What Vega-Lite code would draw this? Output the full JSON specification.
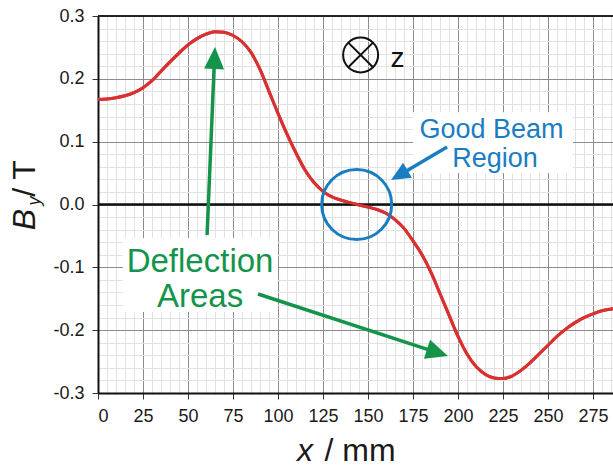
{
  "$schema": "https://vega.github.io/schema/vega-lite/v6.json",
  "width": 515,
  "height": 377,
  "autosize": {"type": "none"},
  "padding": {"left": 98, "top": 16, "right": 0, "bottom": 75},
  "background": "white",
  "config": {"view": {"stroke": null}, "font": "Liberation Sans"},
  "datasets": {
    "field": [
      {"x": 0, "by": 0.167}, {"x": 5, "by": 0.168}, {"x": 10, "by": 0.170}, {"x": 15, "by": 0.173},
      {"x": 20, "by": 0.178}, {"x": 25, "by": 0.186}, {"x": 30, "by": 0.197}, {"x": 35, "by": 0.212},
      {"x": 40, "by": 0.227}, {"x": 45, "by": 0.241}, {"x": 50, "by": 0.254}, {"x": 55, "by": 0.264},
      {"x": 60, "by": 0.271}, {"x": 65, "by": 0.275}, {"x": 70, "by": 0.274}, {"x": 75, "by": 0.269},
      {"x": 80, "by": 0.259}, {"x": 85, "by": 0.242}, {"x": 90, "by": 0.215}, {"x": 95, "by": 0.180},
      {"x": 100, "by": 0.145}, {"x": 105, "by": 0.112}, {"x": 110, "by": 0.082}, {"x": 115, "by": 0.055},
      {"x": 120, "by": 0.035}, {"x": 125, "by": 0.021}, {"x": 130, "by": 0.012}, {"x": 135, "by": 0.007},
      {"x": 140, "by": 0.003}, {"x": 144, "by": 0.0}, {"x": 150, "by": -0.004}, {"x": 155, "by": -0.008},
      {"x": 160, "by": -0.014}, {"x": 165, "by": -0.024}, {"x": 170, "by": -0.038}, {"x": 175, "by": -0.058},
      {"x": 180, "by": -0.080}, {"x": 185, "by": -0.108}, {"x": 190, "by": -0.142}, {"x": 195, "by": -0.176},
      {"x": 200, "by": -0.210}, {"x": 205, "by": -0.238}, {"x": 210, "by": -0.258}, {"x": 215, "by": -0.270},
      {"x": 220, "by": -0.276}, {"x": 225, "by": -0.277}, {"x": 230, "by": -0.273}, {"x": 235, "by": -0.264},
      {"x": 240, "by": -0.252}, {"x": 245, "by": -0.238}, {"x": 250, "by": -0.224}, {"x": 255, "by": -0.210},
      {"x": 260, "by": -0.198}, {"x": 265, "by": -0.188}, {"x": 270, "by": -0.180}, {"x": 275, "by": -0.174},
      {"x": 280, "by": -0.169}, {"x": 286.1, "by": -0.166}
    ],
    "boxes": [
      {"x": 13.9, "x2": 100, "y": -0.0533, "y2": -0.171},
      {"x": 175, "x2": 263.9, "y": 0.147, "y2": 0.0502}
    ],
    "refs": [{"level": 0}],
    "topEdge": [{"level": 0.3}],
    "greenLines": [
      {"id": "a1", "x": 60.6, "y": -0.0485},
      {"id": "a1", "x": 64.6, "y": 0.2252},
      {"id": "a2", "x": 88.9, "y": -0.1424},
      {"id": "a2", "x": 186.0, "y": -0.2333}
    ],
    "blueLine": [
      {"x": 193.9, "y": 0.0915},
      {"x": 169.0, "y": 0.0495}
    ],
    "head1": [{"x": 65.0, "y": 0.2507}],
    "head2": [{"x": 194.4, "y": -0.2411}],
    "head3": [{"x": 162.8, "y": 0.039}],
    "beam": [{"x": 143.7, "y": 0.0}],
    "zsym": [{"x": 145.9, "y": 0.238}],
    "zlabel": [{"x": 166.4, "y": 0.2188, "label": "z"}],
    "greenText": [
      {"x": 56.7, "y": -0.107, "label": "Deflection"},
      {"x": 56.7, "y": -0.1627, "label": "Areas"}
    ],
    "blueText": [
      {"x": 218.6, "y": 0.1054, "label": "Good Beam"},
      {"x": 220.6, "y": 0.0602, "label": "Region"}
    ],
    "xTitleItalic": [{"x": 115, "y": -0.409, "label": "x"}],
    "xTitleRest": [{"x": 145.6, "y": -0.409, "label": "/ mm"}],
    "yTitleB": [{"x": -35, "y": -0.024, "label": "B"}],
    "yTitleSub": [{"x": -32.2, "y": 0.0056, "label": "y"}],
    "yTitleRest": [{"x": -35, "y": 0.0414, "label": "/ T"}]
  },
  "layer": [
    {
      "data": {"name": "field"},
      "mark": {"type": "point", "opacity": 0},
      "encoding": {
        "x": {"field": "x", "type": "quantitative",
          "scale": {"domain": [0, 286.1], "nice": false, "zero": false},
          "axis": {"orient": "top", "values": [5,10,15,20,30,35,40,45,55,60,65,70,80,85,90,95,105,110,115,120,130,135,140,145,155,160,165,170,180,185,190,195,205,210,215,220,230,235,240,245,255,260,265,270,280,285],
            "grid": true, "gridColor": "#e2e2e2", "gridWidth": 1, "labels": false, "ticks": false, "domain": false, "title": null}},
        "y": {"field": "by", "type": "quantitative",
          "scale": {"domain": [-0.3, 0.3], "nice": false, "zero": false},
          "axis": {"orient": "right", "values": [-0.28,-0.26,-0.24,-0.22,-0.18,-0.16,-0.14,-0.12,-0.08,-0.06,-0.04,-0.02,0.02,0.04,0.06,0.08,0.12,0.14,0.16,0.18,0.22,0.24,0.26,0.28],
            "grid": true, "gridColor": "#e2e2e2", "gridWidth": 1, "labels": false, "ticks": false, "domain": false, "title": null}}
      }
    },
    {
      "data": {"name": "field"},
      "mark": {"type": "line", "color": "#d8312f", "strokeWidth": 3, "interpolate": "monotone"},
      "encoding": {
        "x": {"field": "x", "type": "quantitative",
          "scale": {"domain": [0, 286.1], "nice": false, "zero": false},
          "axis": {"orient": "bottom", "values": [0,25,50,75,100,125,150,175,200,225,250,275],
            "grid": true, "gridColor": "#8c8c8c", "gridWidth": 1,
            "domainColor": "#111111", "domainWidth": 2, "tickColor": "#333333", "tickSize": 6, "tickWidth": 1,
            "labelFontSize": 18, "labelColor": "#1a1a1a", "labelPadding": 8, "labelFont": "Liberation Sans", "title": null}},
        "y": {"field": "by", "type": "quantitative",
          "scale": {"domain": [-0.3, 0.3], "nice": false, "zero": false},
          "axis": {"orient": "left", "values": [-0.3,-0.2,-0.1,0,0.1,0.2,0.3], "format": ".1f",
            "labelExpr": "replace(datum.label, '−', '-')",
            "grid": true, "gridColor": "#8c8c8c", "gridWidth": 1,
            "domainColor": "#111111", "domainWidth": 2, "tickColor": "#333333", "tickSize": 6, "tickWidth": 1,
            "labelFontSize": 18, "labelColor": "#1a1a1a", "labelPadding": 8, "labelFont": "Liberation Sans", "title": null}}
      }
    },
    {
      "data": {"name": "boxes"},
      "mark": {"type": "rect", "color": "white"},
      "encoding": {
        "x": {"field": "x", "type": "quantitative", "scale": {"domain": [0, 286.1], "nice": false, "zero": false}, "axis": null},
        "x2": {"field": "x2"},
        "y": {"field": "y", "type": "quantitative", "scale": {"domain": [-0.3, 0.3], "nice": false, "zero": false}, "axis": null},
        "y2": {"field": "y2"}
      }
    },
    {
      "data": {"name": "refs"},
      "mark": {"type": "rule", "color": "#111111", "strokeWidth": 2.5},
      "encoding": {"y": {"field": "level", "type": "quantitative", "scale": {"domain": [-0.3, 0.3], "nice": false, "zero": false}, "axis": null}}
    },
    {
      "data": {"name": "topEdge"},
      "mark": {"type": "rule", "color": "#222222", "strokeWidth": 2},
      "encoding": {"y": {"field": "level", "type": "quantitative", "scale": {"domain": [-0.3, 0.3], "nice": false, "zero": false}, "axis": null}}
    },
    {
      "data": {"name": "field"},
      "mark": {"type": "line", "color": "#d8312f", "strokeWidth": 3, "interpolate": "monotone"},
      "encoding": {
        "x": {"field": "x", "type": "quantitative", "scale": {"domain": [0, 286.1], "nice": false, "zero": false}, "axis": null},
        "y": {"field": "by", "type": "quantitative", "scale": {"domain": [-0.3, 0.3], "nice": false, "zero": false}, "axis": null}
      }
    },
    {
      "data": {"name": "beam"},
      "mark": {"type": "point", "shape": "circle", "size": 4900, "filled": false, "stroke": "#1a7dc2", "strokeWidth": 3, "opacity": 1},
      "encoding": {
        "x": {"field": "x", "type": "quantitative", "scale": {"domain": [0, 286.1], "nice": false, "zero": false}, "axis": null},
        "y": {"field": "y", "type": "quantitative", "scale": {"domain": [-0.3, 0.3], "nice": false, "zero": false}, "axis": null}
      }
    },
    {
      "data": {"name": "zsym"},
      "mark": {"type": "point", "shape": "circle", "size": 1225, "filled": false, "stroke": "#111111", "strokeWidth": 2, "opacity": 1},
      "encoding": {
        "x": {"field": "x", "type": "quantitative", "scale": {"domain": [0, 286.1], "nice": false, "zero": false}, "axis": null},
        "y": {"field": "y", "type": "quantitative", "scale": {"domain": [-0.3, 0.3], "nice": false, "zero": false}, "axis": null}
      }
    },
    {
      "data": {"name": "zsym"},
      "mark": {"type": "point", "shape": "M-0.707,-0.707L0.707,0.707M-0.707,0.707L0.707,-0.707", "size": 1225, "filled": false, "stroke": "#111111", "strokeWidth": 2, "opacity": 1},
      "encoding": {
        "x": {"field": "x", "type": "quantitative", "scale": {"domain": [0, 286.1], "nice": false, "zero": false}, "axis": null},
        "y": {"field": "y", "type": "quantitative", "scale": {"domain": [-0.3, 0.3], "nice": false, "zero": false}, "axis": null}
      }
    },
    {
      "data": {"name": "zlabel"},
      "mark": {"type": "text", "font": "Liberation Sans", "fontSize": 28, "color": "#111111", "align": "center", "baseline": "alphabetic"},
      "encoding": {
        "x": {"field": "x", "type": "quantitative", "scale": {"domain": [0, 286.1], "nice": false, "zero": false}, "axis": null},
        "y": {"field": "y", "type": "quantitative", "scale": {"domain": [-0.3, 0.3], "nice": false, "zero": false}, "axis": null},
        "text": {"field": "label"}
      }
    },
    {
      "data": {"name": "greenLines"},
      "mark": {"type": "line", "color": "#14944a", "strokeWidth": 3.5},
      "encoding": {
        "x": {"field": "x", "type": "quantitative", "scale": {"domain": [0, 286.1], "nice": false, "zero": false}, "axis": null},
        "y": {"field": "y", "type": "quantitative", "scale": {"domain": [-0.3, 0.3], "nice": false, "zero": false}, "axis": null},
        "detail": {"field": "id"}
      }
    },
    {
      "data": {"name": "head1"},
      "mark": {"type": "point", "shape": "M0,0L-1,2.2L1,2.2Z", "size": 400, "filled": true, "color": "#14944a", "opacity": 1, "angle": 2.4},
      "encoding": {
        "x": {"field": "x", "type": "quantitative", "scale": {"domain": [0, 286.1], "nice": false, "zero": false}, "axis": null},
        "y": {"field": "y", "type": "quantitative", "scale": {"domain": [-0.3, 0.3], "nice": false, "zero": false}, "axis": null}
      }
    },
    {
      "data": {"name": "head2"},
      "mark": {"type": "point", "shape": "M0,0L-1,2.2L1,2.2Z", "size": 400, "filled": true, "color": "#14944a", "opacity": 1, "angle": 108},
      "encoding": {
        "x": {"field": "x", "type": "quantitative", "scale": {"domain": [0, 286.1], "nice": false, "zero": false}, "axis": null},
        "y": {"field": "y", "type": "quantitative", "scale": {"domain": [-0.3, 0.3], "nice": false, "zero": false}, "axis": null}
      }
    },
    {
      "data": {"name": "blueLine"},
      "mark": {"type": "line", "color": "#1a7dc2", "strokeWidth": 3.5},
      "encoding": {
        "x": {"field": "x", "type": "quantitative", "scale": {"domain": [0, 286.1], "nice": false, "zero": false}, "axis": null},
        "y": {"field": "y", "type": "quantitative", "scale": {"domain": [-0.3, 0.3], "nice": false, "zero": false}, "axis": null}
      }
    },
    {
      "data": {"name": "head3"},
      "mark": {"type": "point", "shape": "M0,0L-1,2.2L1,2.2Z", "size": 300, "filled": true, "color": "#1a7dc2", "opacity": 1, "angle": 239.5},
      "encoding": {
        "x": {"field": "x", "type": "quantitative", "scale": {"domain": [0, 286.1], "nice": false, "zero": false}, "axis": null},
        "y": {"field": "y", "type": "quantitative", "scale": {"domain": [-0.3, 0.3], "nice": false, "zero": false}, "axis": null}
      }
    },
    {
      "data": {"name": "greenText"},
      "mark": {"type": "text", "font": "Liberation Sans", "fontSize": 33, "color": "#14944a", "align": "center", "baseline": "alphabetic"},
      "encoding": {
        "x": {"field": "x", "type": "quantitative", "scale": {"domain": [0, 286.1], "nice": false, "zero": false}, "axis": null},
        "y": {"field": "y", "type": "quantitative", "scale": {"domain": [-0.3, 0.3], "nice": false, "zero": false}, "axis": null},
        "text": {"field": "label"}
      }
    },
    {
      "data": {"name": "blueText"},
      "mark": {"type": "text", "font": "Liberation Sans", "fontSize": 27, "color": "#1a7dc2", "align": "center", "baseline": "alphabetic"},
      "encoding": {
        "x": {"field": "x", "type": "quantitative", "scale": {"domain": [0, 286.1], "nice": false, "zero": false}, "axis": null},
        "y": {"field": "y", "type": "quantitative", "scale": {"domain": [-0.3, 0.3], "nice": false, "zero": false}, "axis": null},
        "text": {"field": "label"}
      }
    },
    {
      "data": {"name": "xTitleItalic"},
      "mark": {"type": "text", "font": "Liberation Sans", "fontSize": 32, "fontStyle": "italic", "color": "#1a1a1a", "align": "center", "baseline": "alphabetic"},
      "encoding": {
        "x": {"field": "x", "type": "quantitative", "scale": {"domain": [0, 286.1], "nice": false, "zero": false}, "axis": null},
        "y": {"field": "y", "type": "quantitative", "scale": {"domain": [-0.3, 0.3], "nice": false, "zero": false}, "axis": null},
        "text": {"field": "label"}
      }
    },
    {
      "data": {"name": "xTitleRest"},
      "mark": {"type": "text", "font": "Liberation Sans", "fontSize": 32, "color": "#1a1a1a", "align": "center", "baseline": "alphabetic"},
      "encoding": {
        "x": {"field": "x", "type": "quantitative", "scale": {"domain": [0, 286.1], "nice": false, "zero": false}, "axis": null},
        "y": {"field": "y", "type": "quantitative", "scale": {"domain": [-0.3, 0.3], "nice": false, "zero": false}, "axis": null},
        "text": {"field": "label"}
      }
    },
    {
      "data": {"name": "yTitleB"},
      "mark": {"type": "text", "font": "Liberation Sans", "fontSize": 32, "fontStyle": "italic", "color": "#1a1a1a", "align": "center", "baseline": "alphabetic", "angle": 270},
      "encoding": {
        "x": {"field": "x", "type": "quantitative", "scale": {"domain": [0, 286.1], "nice": false, "zero": false}, "axis": null},
        "y": {"field": "y", "type": "quantitative", "scale": {"domain": [-0.3, 0.3], "nice": false, "zero": false}, "axis": null},
        "text": {"field": "label"}
      }
    },
    {
      "data": {"name": "yTitleSub"},
      "mark": {"type": "text", "font": "Liberation Sans", "fontSize": 18, "fontStyle": "italic", "color": "#1a1a1a", "align": "center", "baseline": "alphabetic", "angle": 270},
      "encoding": {
        "x": {"field": "x", "type": "quantitative", "scale": {"domain": [0, 286.1], "nice": false, "zero": false}, "axis": null},
        "y": {"field": "y", "type": "quantitative", "scale": {"domain": [-0.3, 0.3], "nice": false, "zero": false}, "axis": null},
        "text": {"field": "label"}
      }
    },
    {
      "data": {"name": "yTitleRest"},
      "mark": {"type": "text", "font": "Liberation Sans", "fontSize": 32, "color": "#1a1a1a", "align": "center", "baseline": "alphabetic", "angle": 270},
      "encoding": {
        "x": {"field": "x", "type": "quantitative", "scale": {"domain": [0, 286.1], "nice": false, "zero": false}, "axis": null},
        "y": {"field": "y", "type": "quantitative", "scale": {"domain": [-0.3, 0.3], "nice": false, "zero": false}, "axis": null},
        "text": {"field": "label"}
      }
    }
  ],
  "resolve": {"axis": {"x": "independent", "y": "independent"}}
}
